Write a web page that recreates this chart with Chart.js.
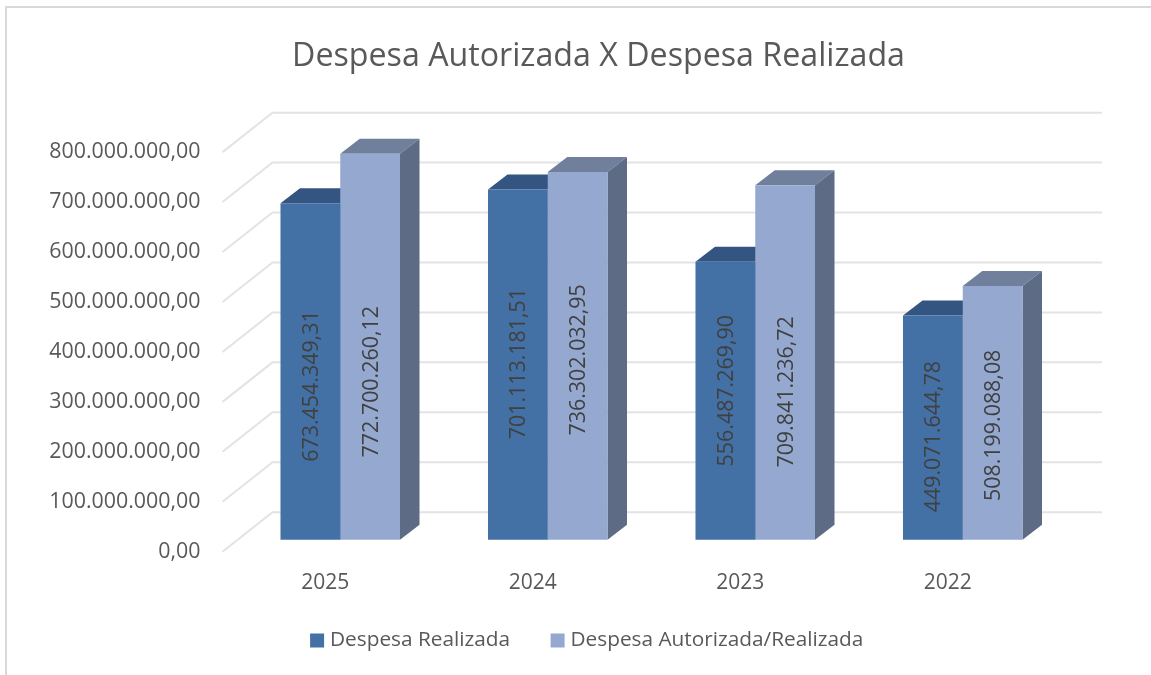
<!DOCTYPE html>
<html>
<head>
<meta charset="utf-8">
<title>Despesa Autorizada X Despesa Realizada</title>
<script src="https://cdn.jsdelivr.net/npm/chart.js@4"></script>
<style>
  html, body { margin: 0; padding: 0; background: #fff; }
  #wrap { position: relative; width: 1151px; height: 675px; overflow: hidden; }
  #wrap::before { content: ''; position: absolute; left: 5px; top: 6px; right: 0; bottom: 0; border-left: 2px solid #d9d9d9; border-top: 2px solid #d9d9d9; }
  canvas { position: absolute; left: 0; top: 0; }
</style>
</head>
<body>
<div id="wrap"><canvas id="chart" width="1151" height="675"></canvas></div>
<script>
const categories = ['2025', '2024', '2023', '2022'];
const despesaRealizada = [673454349.31, 701113181.51, 556487269.90, 449071644.78];
const despesaAutorizada = [772700260.12, 736302032.95, 709841236.72, 508199088.08];
const tickStep = 100000000;
const tickMax = 800000000;

const FONT = '"Open Sans", sans-serif';
const TEXT = '#595959';
const GRID = '#e3e3e3';

// depth of the 3D look, px
const bar3d = { dx: 19.5, dy: 15 };
const wall = { front: 14, back: 36, rise: 39.5, right: 1102 };
// the data labels don't sit in the bar middle in the original, px down from it
const labelShift = [[14.5, -1, -10, 9], [35, 4, 29.5, 12.5]];

const shades = [
  { front: '#4371a6', top: '#345582', side: '#2f4d76' },
  { front: '#95a9d0', top: '#6f7f9c', side: '#5d6b84' }
];

const fmt = v => v.toLocaleString('pt-BR', { minimumFractionDigits: 2, maximumFractionDigits: 2 });

function poly(ctx, pts, color) {
  ctx.beginPath();
  pts.forEach((p, i) => i ? ctx.lineTo(p[0], p[1]) : ctx.moveTo(p[0], p[1]));
  ctx.closePath();
  ctx.fillStyle = color;
  ctx.fill();
}

const wall3d = {
  id: 'wall3d',
  afterLayout(chart) {
    chart.legend.left -= 9.5;
    chart.legend.right -= 9.5;
    chart.legend.top = 585;
  },
  beforeDatasetsDraw(chart) {
    const { ctx, chartArea, scales } = chart;
    // back wall grid
    ctx.save();
    ctx.strokeStyle = GRID;
    ctx.lineWidth = 2;
    scales.y.ticks.forEach(t => {
      const y = scales.y.getPixelForValue(t.value);
      ctx.beginPath();
      ctx.moveTo(chartArea.left - wall.front, y);
      ctx.lineTo(chartArea.left + wall.back, y - wall.rise);
      ctx.lineTo(wall.right, y - wall.rise);
      ctx.stroke();
    });
    // tops and sides, the fronts are the real bars
    chart.data.datasets.forEach((ds, i) => {
      chart.getDatasetMeta(i).data.forEach(bar => {
        const l = bar.x - bar.width / 2, r = bar.x + bar.width / 2;
        const dx = bar3d.dx, dy = bar3d.dy;
        poly(ctx, [[l, bar.y], [l + dx, bar.y - dy], [r + dx, bar.y - dy], [r, bar.y]], shades[i].top);
        poly(ctx, [[r, bar.y], [r + dx, bar.y - dy], [r + dx, bar.base - dy], [r, bar.base]], shades[i].side);
      });
    });
    ctx.restore();
  },
  afterDatasetsDraw(chart) {
    const { ctx } = chart;
    ctx.save();
    ctx.font = '21.4px ' + FONT;
    ctx.fillStyle = '#404040';
    ctx.textAlign = 'center';
    ctx.textBaseline = 'middle';
    chart.data.datasets.forEach((ds, i) => {
      chart.getDatasetMeta(i).data.forEach((bar, j) => {
        ctx.save();
        ctx.translate(bar.x + 1.5, (bar.y + bar.base) / 2 + labelShift[i][j]);
        ctx.rotate(-Math.PI / 2);
        ctx.fillText(fmt(ds.data[j]), 0, 0);
        ctx.restore();
      });
    });
    ctx.restore();
  }
};

new Chart(document.getElementById('chart'), {
  type: 'bar',
  data: {
    labels: categories,
    datasets: [
      { label: 'Despesa Realizada', data: despesaRealizada, backgroundColor: shades[0].front, yAxisID: 'yBars' },
      { label: 'Despesa Autorizada/Realizada', data: despesaAutorizada, backgroundColor: shades[1].front, yAxisID: 'yBars' }
    ]
  },
  plugins: [wall3d],
  options: {
    responsive: false,
    animation: false,
    layout: { padding: { left: 46, bottom: -60 } },
    datasets: { bar: { categoryPercentage: 0.576, barPercentage: 1 } },
    plugins: {
      tooltip: { enabled: false },
      title: {
        display: true,
        text: 'Despesa Autorizada X Despesa Realizada',
        color: TEXT,
        font: { family: FONT, size: 32.2, weight: 'normal' },
        padding: { top: 38, bottom: 75.5 }
      },
      legend: {
        position: 'bottom',
        labels: {
          color: TEXT,
          font: { family: FONT, size: 20.8 },
          boxWidth: 5,
          boxHeight: 5,
          padding: 45,
          // thick outline makes a 14px box with a small gap before the text
          generateLabels: chart => chart.data.datasets.map((ds, i) => ({
            text: ds.label,
            fillStyle: shades[i].front,
            strokeStyle: shades[i].front,
            lineWidth: 9,
            datasetIndex: i,
            fontColor: TEXT
          }))
        }
      }
    },
    scales: {
      x: {
        grid: { display: false, drawTicks: false },
        border: { display: false },
        afterFit: s => { s.height = 107.5; },
        ticks: { color: TEXT, font: { family: FONT, size: 21 }, padding: 19, labelOffset: -15, maxRotation: 0 }
      },
      y: {
        min: 0,
        max: tickMax,
        grid: { display: false, drawTicks: false },
        border: { display: false },
        afterFit: s => { s.width = 190.5; },
        ticks: { stepSize: tickStep, autoSkip: false, color: TEXT, font: { family: FONT, size: 21.4 }, padding: 36, callback: v => fmt(v) }
      },
      // same px per real as y, but the floor of the bars is 12px above the axis zero
      yBars: {
        position: 'right',
        min: -24000000,
        max: 776000000,
        grid: { display: false, drawTicks: false },
        border: { display: false },
        afterFit: s => { s.width = 84.5; },
        ticks: { display: false }
      }
    }
  }
});
</script>
</body>
</html>
